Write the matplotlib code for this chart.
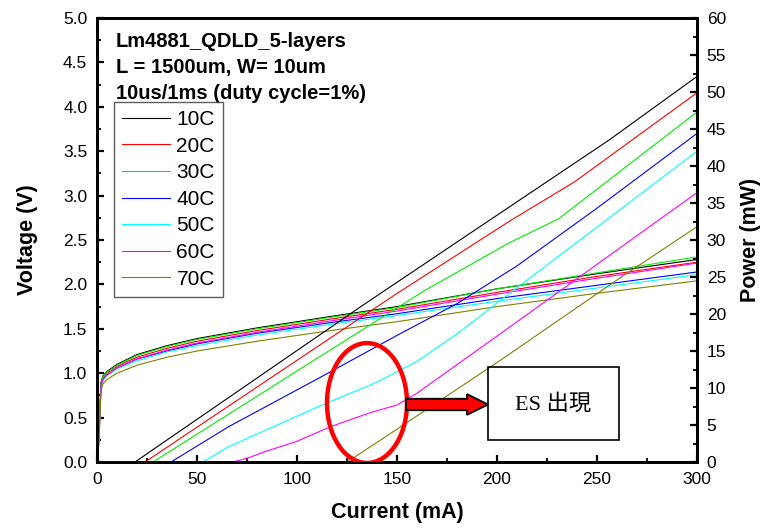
import matplotlib
matplotlib.use("Agg")
import matplotlib.pyplot as plt
from matplotlib.patches import Ellipse, Rectangle, FancyArrow
from matplotlib.ticker import MultipleLocator

plt.rcParams['font.family'] = ['Liberation Sans', 'DejaVu Sans']

labels = ["10C", "20C", "30C", "40C", "50C", "60C", "70C"]
colors = ["#000000", "#ff0000", "#00ee00", "#0000ff", "#00ffff", "#ff00ff", "#808000"]

# voltage curves (left axis), shared current grid
current_v = [0, 1, 2, 3, 5, 10, 20, 35, 50, 80, 120, 150, 200, 250, 300]
volt_10 = [0, 0.35, 0.90, 0.97, 1.02, 1.10, 1.21, 1.31, 1.39, 1.51, 1.65, 1.75, 1.95, 2.12, 2.28]
volt_20 = [0, 0.33, 0.88, 0.95, 1.00, 1.08, 1.18, 1.28, 1.36, 1.48, 1.62, 1.72, 1.91, 2.09, 2.25]
volt_30 = [0, 0.35, 0.89, 0.96, 1.01, 1.09, 1.20, 1.30, 1.38, 1.50, 1.64, 1.74, 1.95, 2.13, 2.31]
volt_40 = [0, 0.30, 0.86, 0.93, 0.98, 1.06, 1.16, 1.25, 1.33, 1.45, 1.58, 1.67, 1.84, 1.99, 2.14]
volt_50 = [0, 0.28, 0.85, 0.92, 0.97, 1.05, 1.14, 1.24, 1.31, 1.43, 1.56, 1.65, 1.81, 1.96, 2.11]
volt_60 = [0, 0.25, 0.86, 0.93, 0.98, 1.06, 1.16, 1.26, 1.34, 1.46, 1.60, 1.70, 1.89, 2.07, 2.24]
volt_70 = [0, 0.20, 0.80, 0.88, 0.93, 1.00, 1.09, 1.18, 1.25, 1.36, 1.49, 1.58, 1.75, 1.90, 2.04]
volts = [volt_10, volt_20, volt_30, volt_40, volt_50, volt_60, volt_70]

# optical power curves (right axis)
cur_p10 = [0, 19, 133, 256, 300]
pow_10 = [0, 0, 21.2, 43.5, 52.1]
cur_p20 = [0, 24, 149, 206, 239, 300]
pow_20 = [0, 0, 22.6, 32.5, 37.9, 49.9]
cur_p30 = [0, 28, 100, 164, 206, 231, 300]
pow_30 = [0, 0, 12.3, 23.2, 29.6, 32.9, 47.3]
cur_p40 = [0, 37, 66, 110, 152, 180, 210, 250, 300]
pow_40 = [0, 0, 4.8, 11.2, 17.4, 21.4, 26.5, 34.3, 44.4]
cur_p50 = [0, 53, 66, 110, 140, 160, 180, 202, 300]
pow_50 = [0, 0, 2.1, 7.4, 10.8, 13.6, 17.3, 21.9, 42.0]
cur_p60 = [0, 68, 76, 84, 100, 117, 137, 150, 160, 202, 300]
pow_60 = [0, 0, 0.6, 1.4, 2.8, 4.8, 6.7, 7.7, 9.3, 17.4, 36.4]
cur_p70 = [0, 125, 142, 202, 260, 300]
pow_70 = [0, 0, 3.0, 13.8, 24.6, 31.8]
cur_p = [cur_p10, cur_p20, cur_p30, cur_p40, cur_p50, cur_p60, cur_p70]
pows = [pow_10, pow_20, pow_30, pow_40, pow_50, pow_60, pow_70]

fig = plt.figure(figsize=(7.6, 5.29), dpi=100)
ax = fig.add_axes([97 / 760, 1 - 462 / 529, 600 / 760, 444 / 529])
ax2 = ax.twinx()

for v, c, lab in zip(volts, colors, labels):
    ax.plot(current_v, v, color=c, lw=0.8, label=lab)
for i, p, c in zip(cur_p, pows, colors):
    ax2.plot(i, p, color=c, lw=0.8)

ax.set_xlim(0, 300)
ax.set_ylim(0, 5)
ax2.set_ylim(0, 60)

ax.xaxis.set_major_locator(MultipleLocator(50))
ax.xaxis.set_minor_locator(MultipleLocator(25))
ax.yaxis.set_major_locator(MultipleLocator(0.5))
ax.yaxis.set_minor_locator(MultipleLocator(0.25))
ax2.yaxis.set_major_locator(MultipleLocator(5))
ax2.yaxis.set_minor_locator(MultipleLocator(2.5))
ax.yaxis.set_major_formatter(plt.FuncFormatter(lambda x, _: f"{x:.1f}"))

for a in (ax, ax2):
    a.tick_params(which='major', direction='in', length=5, width=1.6, labelsize=12.5, pad=7)
    a.tick_params(which='minor', direction='in', length=3, width=1.3)
    for s in a.spines.values():
        s.set_linewidth(2)
ax.tick_params(which='both', top=False, right=False)
ax2.tick_params(which='both', left=False, right=True)

ax.set_xlabel("Current (mA)", fontsize=15.5, fontweight='bold')
ax.set_ylabel("Voltage (V)", fontsize=15.5, fontweight='bold')
ax2.set_ylabel("Power (mW)", fontsize=15.5, fontweight='bold')
ax.xaxis.set_label_coords(0.5, -0.09)
ax.yaxis.set_label_coords(-0.098, 0.5)
ax2.yaxis.set_label_coords(1.072, 0.5)

info = ["Lm4881_QDLD_5-layers", "L = 1500um, W= 10um", "10us/1ms (duty cycle=1%)"]
for k, line in enumerate(info):
    ax.text(0.0317, 0.947 - k * 0.058, line, transform=ax.transAxes,
            fontsize=14.5, fontweight='bold', ha='left', va='center')

leg = ax.legend(loc='upper left', bbox_to_anchor=(0.0283, 0.8115), fontsize=15,
                frameon=True, fancybox=False, borderaxespad=0, borderpad=0.4,
                handlelength=2.3, handletextpad=0.3, labelspacing=0.365)
leg.get_frame().set_edgecolor('#333333')
leg.get_frame().set_linewidth(1.0)
leg.get_frame().set_facecolor('none')

# ES annotation
ax2.add_patch(Ellipse((135, 7.97), 40, 16.2, fill=False, edgecolor='red', lw=3.2, zorder=5))
ax2.add_patch(FancyArrow(154.5, 7.77, 41, 0, width=1.55, head_width=2.8, head_length=10.5,
                         length_includes_head=True, facecolor='red', edgecolor='black',
                         lw=1.3, zorder=6))
ax2.add_patch(Rectangle((195.5, 2.97), 65.5, 9.83, fill=False, edgecolor='black', lw=1.2, zorder=6))
ax2.text(228.25, 7.84, "ES 出現", fontsize=16, ha='center', va='center',
         family=['Liberation Serif', 'Noto Sans CJK TC'], zorder=7)

fig.savefig("out.png", dpi=100)
